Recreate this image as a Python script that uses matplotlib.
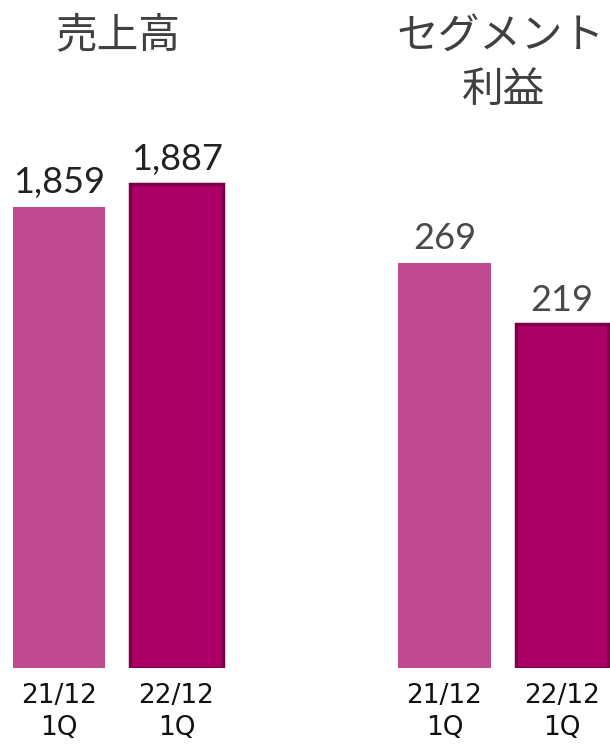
import numpy as np
import matplotlib
matplotlib.use('Agg')
import matplotlib.pyplot as plt

# 四半期比較データ
periods = ['21/12\n1Q', '22/12\n1Q']
sales = [1859, 1887]
segment_profit = [269, 219]
titles = ['売上高', 'セグメント', '利益']

c_prev = '#C04A8F'
c_curr = '#AC0066'
c_edge = '#7A0047'

W, H = 610, 745
fig = plt.figure(figsize=(W / 100, H / 100), dpi=100)


def px_axes(x0, x1, y_top, y_bot):
    return fig.add_axes([x0 / W, 1 - y_bot / H, (x1 - x0) / W, (y_bot - y_top) / H])


def draw_panel(ax, values, ylim, xlim, label_color):
    x = np.arange(len(values))
    base = ylim[0]
    ax.bar(x[0], values[0] - base, bottom=base, width=0.79, color=c_prev, zorder=2)
    ax.bar(x[1], values[1] - base, bottom=base, width=0.79, color=c_curr,
           edgecolor=c_edge, linewidth=2.5, zorder=2)
    for xi, v in zip(x, values):
        ax.annotate(f'{v:,}', (xi, v), xytext=(0, 10), textcoords='offset points',
                    ha='center', va='baseline', fontsize=26, color=label_color,
                    family=['Lato', 'DejaVu Sans'])
    ax.set_ylim(*ylim)
    ax.set_xlim(*xlim)
    ax.set_xticks(x)
    ax.set_xticklabels(periods, fontsize=19, family='DejaVu Sans',
                       linespacing=1.3, color='#111111')
    ax.tick_params(axis='x', length=0, pad=11)
    ax.set_yticks([])
    for s in ax.spines.values():
        s.set_visible(False)
    ax.patch.set_alpha(0)


ax1 = px_axes(0, 240, 140, 668)
draw_panel(ax1, sales, (1285, 1942), (-0.502, 1.54), '#222222')

ax2 = px_axes(380, 610, 140, 668)
draw_panel(ax2, segment_profit, (-60.3, 369), (-0.549, 1.409), '#4a4a4a')

cjk = ['Noto Sans CJK JP', 'DejaVu Sans']
fig.text(118 / W, 1 - 36 / H, titles[0], ha='center', va='center',
         fontsize=30, family=cjk, color='#404040')
fig.text(501 / W, 1 - 36 / H, titles[1], ha='center', va='center',
         fontsize=30, family=cjk, color='#404040')
fig.text(503 / W, 1 - 90 / H, titles[2], ha='center', va='center',
         fontsize=30, family=cjk, color='#404040')

fig.savefig('out.png', dpi=100)
